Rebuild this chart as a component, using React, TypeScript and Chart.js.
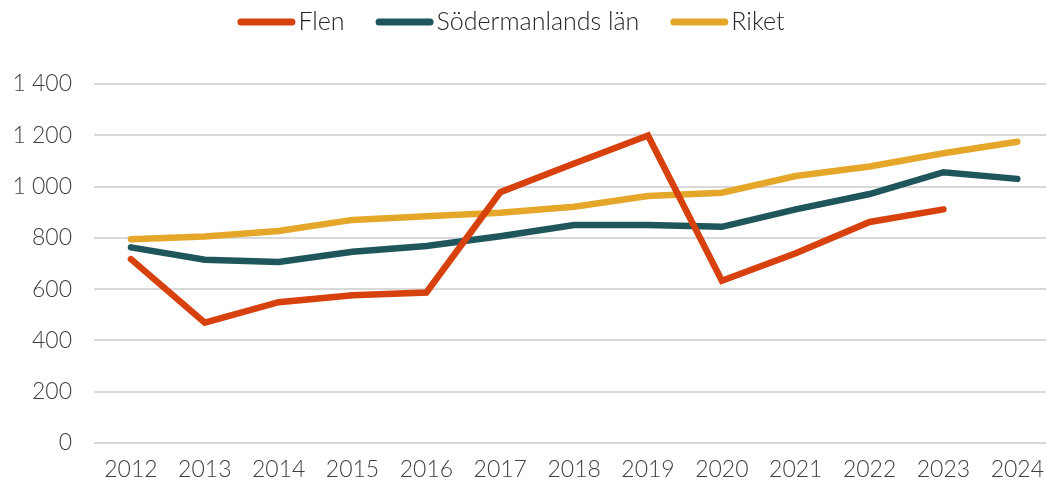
import React, { useEffect, useRef } from "react";
import { Chart, registerables } from "chart.js";

Chart.register(...registerables);

const years = ["2012","2013","2014","2015","2016","2017","2018","2019","2020","2021","2022","2023","2024"];
const flen = [717, 469, 549, 576, 587, 978, 1090, 1199, 633, 740, 862, 911, null];
const sodermanland = [763, 715, 706, 746, 768, 806, 850, 850, 843, 911, 971, 1056, 1030];
const riket = [795, 805, 827, 870, 884, 898, 921, 963, 976, 1041, 1078, 1130, 1175];
const yTicks = [0, 200, 400, 600, 800, 1000, 1200, 1400];

const FONT = "Lato, 'Open Sans', sans-serif";

const legendPlugin = {
  id: "customLegend",
  afterDraw(chart: any) {
    const ctx = chart.ctx as CanvasRenderingContext2D;
    const lineLen = 58;
    const lw = 7;
    const textGap = 3;
    const itemGap = 31;
    const centerX = 511;
    const y = 22;
    ctx.save();
    ctx.font = `300 25px ${FONT}`;
    const items = chart.data.datasets.map((d: any) => ({
      label: d.label,
      color: d.borderColor,
      w: ctx.measureText(d.label).width,
    }));
    const total =
      items.reduce((s: number, it: any) => s + lineLen + textGap + it.w, 0) +
      itemGap * (items.length - 1);
    let x = centerX - total / 2;
    for (const it of items) {
      ctx.strokeStyle = it.color;
      ctx.lineWidth = lw;
      ctx.lineCap = "round";
      ctx.beginPath();
      ctx.moveTo(x + lw / 2, y);
      ctx.lineTo(x + lineLen - lw / 2, y);
      ctx.stroke();
      ctx.fillStyle = "#262626";
      ctx.textBaseline = "middle";
      ctx.textAlign = "left";
      ctx.fillText(it.label, x + lineLen + textGap, y);
      x += lineLen + textGap + it.w + itemGap;
    }
    ctx.restore();
  },
};

export default function App() {
  const ref = useRef<HTMLCanvasElement | null>(null);
  useEffect(() => {
    document.body.style.margin = "0";
    const ctx = ref.current!;
    const mk = (label: string, data: (number | null)[], color: string) => ({
      label,
      data,
      borderColor: color,
      backgroundColor: color,
      borderWidth: 6.5,
      borderCapStyle: "round" as const,
      pointRadius: 0,
      pointHoverRadius: 0,
      tension: 0,
      spanGaps: false,
    });
    const tickFont = { family: FONT, size: 23, weight: 300 as any };
    const chart = new Chart(ctx, {
      type: "line",
      data: {
        labels: years,
        datasets: [
          mk("Flen", flen, "#D7410E"),
          mk("Södermanlands län", sodermanland, "#1E565B"),
          mk("Riket", riket, "#E5A72A"),
        ],
      },
      options: {
        animation: false,
        responsive: false,
        maintainAspectRatio: false,
        layout: { padding: { top: 84, right: 0, left: 0, bottom: 0 } },
        plugins: {
          tooltip: { enabled: false },
          legend: { display: false },
        },
        scales: {
          x: {
            offset: true,
            grid: { display: false, drawTicks: false },
            border: { display: false },
            ticks: {
              color: "#404040",
              font: tickFont,
              padding: 13,
              maxRotation: 0,
              autoSkip: false,
            },
            afterFit: (axis: any) => {
              axis.height = 41;
            },
          },
          y: {
            min: 0,
            max: 1400,
            afterBuildTicks: (axis: any) => {
              axis.ticks = yTicks.map((v) => ({ value: v }));
            },
            grid: { color: "#d9d9d9", lineWidth: 2, drawTicks: false },
            border: { display: false },
            ticks: {
              color: "#404040",
              font: tickFont,
              padding: 22,
              callback: (v: any) => {
                const n = Number(v);
                return n >= 1000 ? Math.floor(n / 1000) + " " + String(n % 1000).padStart(3, "0") : String(n);
              },
            },
            afterFit: (axis: any) => {
              axis.width = 94;
            },
          },
        },
      },
      plugins: [legendPlugin],
    });
    return () => chart.destroy();
  }, []);
  return (
    <div style={{ width: 1046, height: 484, overflow: "hidden" }}>
      <canvas ref={ref} width={1057} height={484} style={{ display: "block" }} />
    </div>
  );
}
